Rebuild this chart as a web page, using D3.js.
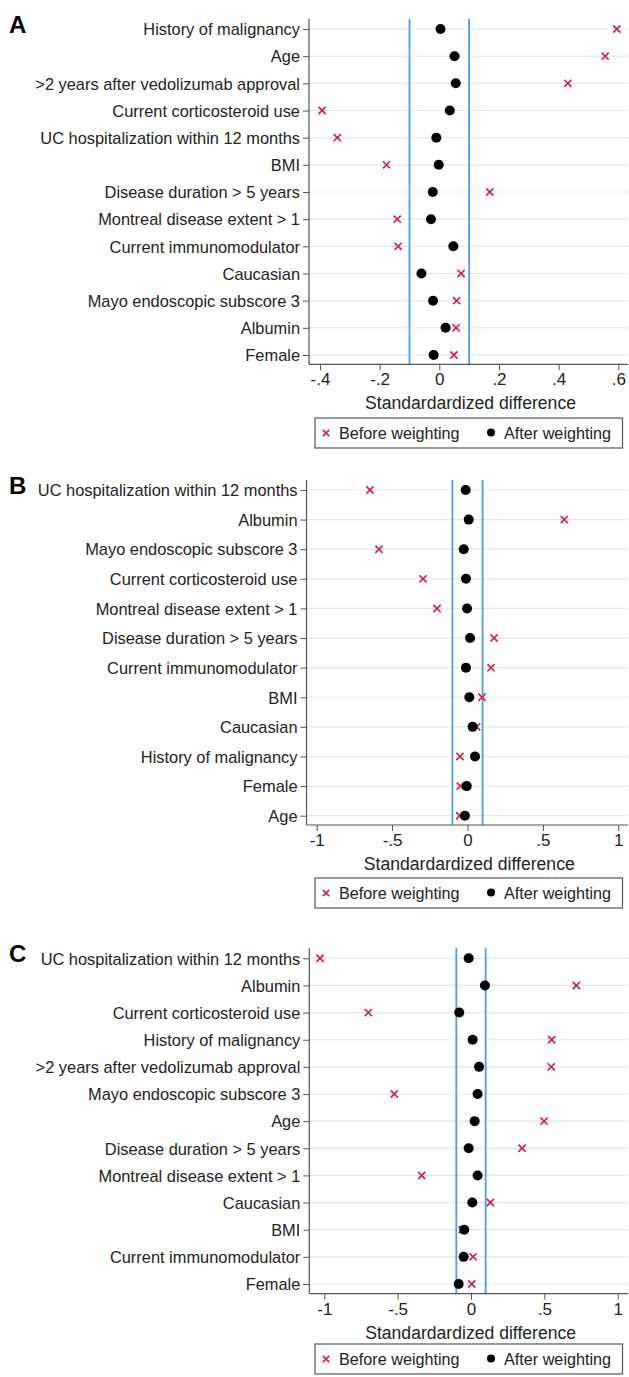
<!DOCTYPE html>
<html>
<head>
<meta charset="utf-8">
<script src="https://cdn.jsdelivr.net/npm/d3@7"></script>
<style>
  body { margin: 0; background: #fff; }
  svg { display: block; font-family: "Liberation Sans", Arial, sans-serif; }
</style>
</head>
<body>
<div id="chart"></div>
<script>
// ---- data ----
var labelsA = ["History of malignancy", "Age", ">2 years after vedolizumab approval", "Current corticosteroid use",
  "UC hospitalization within 12 months", "BMI", "Disease duration > 5 years", "Montreal disease extent > 1",
  "Current immunomodulator", "Caucasian", "Mayo endoscopic subscore 3", "Albumin", "Female"];
var beforeA = [0.595, 0.556, 0.431, -0.393, -0.342, -0.177, 0.169, -0.141, -0.138, 0.073, 0.058, 0.056, 0.049];
var afterA  = [0.004, 0.051, 0.055, 0.035, -0.010, -0.002, -0.022, -0.028, 0.047, -0.060, -0.021, 0.021, -0.019];
var ticksA = [-0.4, -0.2, 0, 0.2, 0.4, 0.6];

var labelsB = ["UC hospitalization within 12 months", "Albumin", "Mayo endoscopic subscore 3", "Current corticosteroid use",
  "Montreal disease extent > 1", "Disease duration > 5 years", "Current immunomodulator", "BMI", "Caucasian",
  "History of malignancy", "Female", "Age"];
var beforeB = [-0.647, 0.642, -0.587, -0.295, -0.202, 0.176, 0.156, 0.096, 0.061, -0.050, -0.048, -0.052];
var afterB  = [-0.012, 0.008, -0.025, -0.010, -0.003, 0.017, -0.010, 0.012, 0.034, 0.050, -0.005, -0.017];
var ticksBC = [-1, -0.5, 0, 0.5, 1];

var labelsC = ["UC hospitalization within 12 months", "Albumin", "Current corticosteroid use", "History of malignancy",
  ">2 years after vedolizumab approval", "Mayo endoscopic subscore 3", "Age", "Disease duration > 5 years",
  "Montreal disease extent > 1", "Caucasian", "BMI", "Current immunomodulator", "Female"];
var beforeC = [-1.029, 0.718, -0.700, 0.550, 0.547, -0.523, 0.498, 0.348, -0.336, 0.132, -0.060, 0.014, 0.005];
var afterC  = [-0.016, 0.095, -0.080, 0.011, 0.055, 0.045, 0.025, -0.016, 0.045, 0.009, -0.046, -0.050, -0.084];

var thresholds = [-0.1, 0.1];
var xTitle = "Standardardized difference";
var legendLabels = ["Before weighting", "After weighting"];

// ---- layout ----
var W = 629, H = 1377;
var red = "#c9244f", blue = "#4a9cf0", axisCol = "#555";

var panels = [
  {letter: "A", labels: labelsA, before: beforeA, after: afterA, ticks: ticksA,
   domain: [-0.4, 0.6], range: [320, 618.3], left: 309, top: 19, rowTop: 29, rowBot: 355, bottom: 364.3, legendTop: 418},
  {letter: "B", labels: labelsB, before: beforeB, after: afterB, ticks: ticksBC,
   domain: [-1, 1], range: [316.7, 618.3], left: 306.5, top: 480, rowTop: 490, rowBot: 815.7, bottom: 825, legendTop: 878},
  {letter: "C", labels: labelsC, before: beforeC, after: afterC, ticks: ticksBC,
   domain: [-1, 1], range: [324.3, 617.7], left: 309.3, top: 948, rowTop: 958.3, rowBot: 1284, bottom: 1293.7, legendTop: 1344}
];
var right = 628;

var svg = d3.select("#chart").append("svg")
  .attr("width", W).attr("height", H);

var fmt = function(d) {
  if (d === 0) return "0";
  var s = String(d);
  return s.replace(/^(-?)0\./, "$1.");
};

function cross(g, cx, cy, s) {
  g.append("path")
    .attr("d", "M" + (cx - s) + "," + (cy - s) + "L" + (cx + s) + "," + (cy + s) +
               "M" + (cx - s) + "," + (cy + s) + "L" + (cx + s) + "," + (cy - s))
    .attr("stroke", red).attr("stroke-width", 1.7).attr("fill", "none");
}

panels.forEach(function(p) {
  var g = svg.append("g");
  var x = d3.scaleLinear().domain(p.domain).range(p.range);
  var y = d3.scalePoint().domain(p.labels).range([p.rowTop, p.rowBot]);

  // grid lines
  g.selectAll(".grid").data(p.labels).enter().append("line")
    .attr("x1", p.left).attr("x2", right)
    .attr("y1", function(d) { return y(d); }).attr("y2", function(d) { return y(d); })
    .attr("stroke", "#e6e6e6").attr("stroke-width", 1.2);

  // threshold lines
  g.selectAll(".thr").data(thresholds).enter().append("line")
    .attr("x1", function(d) { return x(d); }).attr("x2", function(d) { return x(d); })
    .attr("y1", p.top).attr("y2", p.bottom)
    .attr("stroke", blue).attr("stroke-width", 1.8);

  // y axis
  var ya = g.append("g").attr("transform", "translate(" + p.left + ",0)")
    .call(d3.axisLeft(y).tickSize(6).tickPadding(3));
  ya.select(".domain").remove();
  ya.selectAll("line").attr("stroke", axisCol);
  ya.selectAll("text").attr("font-size", 16.4).attr("fill", "#222").attr("dy", "0.35em");
  g.append("line").attr("x1", p.left).attr("x2", p.left).attr("y1", p.top).attr("y2", p.bottom)
    .attr("stroke", axisCol).attr("stroke-width", 1.2);

  // x axis
  var xa = g.append("g").attr("transform", "translate(0," + p.bottom + ")")
    .call(d3.axisBottom(x).tickValues(p.ticks).tickFormat(fmt).tickSize(6).tickPadding(3));
  xa.select(".domain").remove();
  xa.selectAll("line").attr("stroke", axisCol);
  xa.selectAll("text").attr("font-size", 17).attr("fill", "#222");
  g.append("line").attr("x1", p.left).attr("x2", right).attr("y1", p.bottom).attr("y2", p.bottom)
    .attr("stroke", axisCol).attr("stroke-width", 1.2);

  g.append("text").attr("x", (p.left + right) / 2 + 2).attr("y", p.bottom + 45)
    .attr("text-anchor", "middle").attr("font-size", 17.6).attr("fill", "#222").text(xTitle);

  // markers
  p.before.forEach(function(v, i) { cross(g, x(v), y(p.labels[i]), 3.6); });
  g.selectAll(".dot").data(p.after).enter().append("circle")
    .attr("cx", function(d) { return x(d); })
    .attr("cy", function(d, i) { return y(p.labels[i]); })
    .attr("r", 5).attr("fill", "#000");

  // panel letter
  g.append("text").attr("x", 9).attr("y", p.top + 14)
    .attr("font-size", 24).attr("font-weight", "bold").attr("fill", "#000").text(p.letter);

  // legend
  var lg = g.append("g").attr("transform", "translate(315," + p.legendTop + ")");
  lg.append("rect").attr("x", 0).attr("y", 0).attr("width", 307.5).attr("height", 30)
    .attr("fill", "#fff").attr("stroke", axisCol).attr("stroke-width", 1.2);
  cross(lg, 11, 15, 3.2);
  lg.append("text").attr("x", 24).attr("y", 21).attr("font-size", 16.2).attr("fill", "#222").text(legendLabels[0]);
  lg.append("circle").attr("cx", 176).attr("cy", 14.5).attr("r", 4).attr("fill", "#000");
  lg.append("text").attr("x", 189).attr("y", 21).attr("font-size", 16.2).attr("fill", "#222").text(legendLabels[1]);
});
</script>
</body>
</html>
